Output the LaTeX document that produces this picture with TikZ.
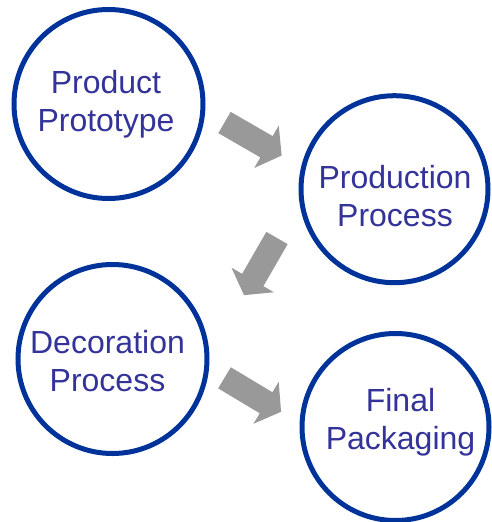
\documentclass[tikz,border=0pt]{standalone}
\usepackage{fontspec}
\setmainfont{Liberation Sans}
\definecolor{ringblue}{RGB}{0,51,153}
\definecolor{textblue}{RGB}{51,51,153}
\definecolor{arrowgray}{RGB}{153,153,153}
\tikzset{
  ring/.style={circle, draw=ringblue, line width=5pt, fill=white, inner sep=0pt, minimum size=#1},
  lbl/.style={text=textblue, align=center, inner sep=0pt, font=\fontsize{32}{38}\selectfont},
  blockarrow/.pic={\fill[arrowgray] (0,-12.3) -- (48.5,-12.3) -- (48.5,-24.5) -- (66,0) -- (48.5,24.5) -- (48.5,12.3) -- (0,12.3) -- cycle;}
}
\begin{document}
\begin{tikzpicture}[x=1pt,y=-1pt]
\useasboundingbox (0,0) rectangle (491,522);
% circles
\node[ring=189pt] (c1) at (108.5,104) {};
\node[ring=187pt] (c2) at (394.5,189.2) {};
\node[ring=189pt] (c3) at (112.5,359) {};
\node[ring=187pt] (c4) at (395.5,427) {};
% labels
\node[lbl] (t1) at ([xshift=-2.5pt]c1.center) {Product\\Prototype};
\node[lbl] (t2) at ([xshift=0.5pt,yshift=-6.6pt]c2.center) {Production\\Process};
\node[lbl] (t3) at ([xshift=-5pt,yshift=-2.5pt]c3.center) {Decoration\\Process};
\node[lbl] (t4) at ([xshift=5pt,yshift=4.7pt]c4.center) {Final\\Packaging};
% block arrows
\pic[rotate=-30] (a1) at (224.5,122.5) {blockarrow};
\pic[rotate=-120] (a2) at (277,238) {blockarrow};
\pic[rotate=-31] (a3) at (224.5,377.8) {blockarrow};
\end{tikzpicture}
\end{document}
